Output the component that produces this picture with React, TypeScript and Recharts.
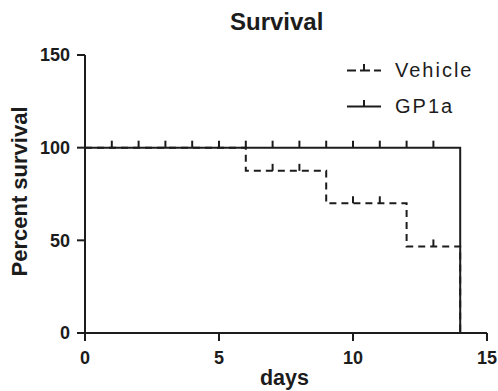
import { ComposedChart, Legend, Line, XAxis, YAxis } from "recharts";

// Kaplan-Meier style survival plot: two step lines with censor ticks.

const xTicks = [0, 5, 10, 15];
const yTicks = [0, 50, 100, 150];

const vehicleDays = [0, 6, 7, 8, 9, 10, 11, 12, 13, 14];
const vehicleSurvival = [100, 87.5, 87.5, 87.5, 70, 70, 70, 46.7, 46.7, 0];
const vehicleCensored = [false, false, true, true, false, true, true, false, true, false];

const gp1aDays = [0, 1, 2, 3, 4, 5, 6, 7, 8, 9, 10, 11, 12, 13, 14];
const gp1aSurvival = [100, 100, 100, 100, 100, 100, 100, 100, 100, 100, 100, 100, 100, 100, 0];
const gp1aCensored = [false, true, true, true, true, true, true, true, true, true, true, true, true, true, false];

const INK = "#1c1c1c";
const FONT = '"Liberation Sans", Arial, Helvetica, sans-serif';

function toRows(days: number[], pct: number[], censored: boolean[]) {
  return days.map((day, i) => ({ day, pct: pct[i], censored: censored[i] }));
}

const vehicleRows = toRows(vehicleDays, vehicleSurvival, vehicleCensored);
const gp1aRows = toRows(gp1aDays, gp1aSurvival, gp1aCensored);

// censored subjects get a short vertical tick sitting on the line
function CensorTick(props: any) {
  const { cx, cy, payload, index, dataKey } = props;
  const key = `${dataKey}-${index}`;
  if (!payload?.censored || cx == null || cy == null) return <g key={key} />;
  return <line key={key} x1={cx} x2={cx} y1={cy - 7} y2={cy} stroke={INK} strokeWidth={2} />;
}

function LegendBox() {
  return (
    <svg width={160} height={70} style={{ overflow: "visible" }}>
      <line x1={7} x2={41} y1={20.5} y2={20.5} stroke={INK} strokeWidth={2} strokeDasharray="9 4 10 4" />
      <line x1={24} x2={24} y1={14} y2={20.5} stroke={INK} strokeWidth={2} />
      <text x={55} y={26.5} fontFamily={FONT} fontSize={20} letterSpacing={2} fill={INK}>
        Vehicle
      </text>
      <line x1={7} x2={41} y1={56.5} y2={56.5} stroke={INK} strokeWidth={2} />
      <line x1={24} x2={24} y1={50} y2={56.5} stroke={INK} strokeWidth={2} />
      <text x={55} y={63} fontFamily={FONT} fontSize={20} letterSpacing={2} fill={INK}>
        GP1a
      </text>
    </svg>
  );
}

const tickStyle = { fill: INK, fontSize: 18, fontWeight: 700, fontFamily: FONT };

export default function App() {
  return (
    <div style={{ position: "absolute", left: 0, top: 0, width: 498, height: 391, background: "#fff" }}>
      <ComposedChart width={498} height={391} margin={{ top: 55, right: 11, bottom: 0, left: 0 }}>
        <XAxis
          type="number"
          dataKey="day"
          domain={[0, 15]}
          ticks={xTicks}
          allowDataOverflow
          height={58}
          tickSize={8}
          tickMargin={10}
          axisLine={{ stroke: INK, strokeWidth: 2 }}
          tickLine={{ stroke: INK, strokeWidth: 2 }}
          tick={tickStyle}
          label={{
            content: () => (
              <text x={284.5} y={385} textAnchor="middle" fontFamily={FONT} fontSize={21.5} fontWeight={700} fill={INK}>
                days
              </text>
            ),
          }}
        />
        <YAxis
          type="number"
          dataKey="pct"
          domain={[0, 150]}
          ticks={yTicks}
          allowDataOverflow
          width={85}
          tickSize={8}
          tickMargin={7}
          axisLine={{ stroke: INK, strokeWidth: 2 }}
          tickLine={{ stroke: INK, strokeWidth: 2 }}
          tick={tickStyle}
          label={{
            content: () => (
              <text
                x={27}
                y={191.5}
                transform="rotate(-90, 27, 191.5)"
                textAnchor="middle"
                fontFamily={FONT}
                fontSize={22}
                fontWeight={700}
                fill={INK}
              >
                Percent survival
              </text>
            ),
          }}
        />
        <Legend
          layout="vertical"
          align="center"
          verticalAlign="middle"
          content={() => <LegendBox />}
          wrapperStyle={{ top: 50, left: 340, width: 160, height: 70 }}
        />
        <Line
          data={vehicleRows}
          dataKey="pct"
          name="Vehicle"
          type="stepAfter"
          stroke={INK}
          strokeWidth={2}
          strokeDasharray="7 5"
          dot={CensorTick}
          activeDot={false}
          isAnimationActive={false}
        />
        <Line
          data={gp1aRows}
          dataKey="pct"
          name="GP1a"
          type="stepAfter"
          stroke={INK}
          strokeWidth={2}
          dot={CensorTick}
          activeDot={false}
          isAnimationActive={false}
        />
      </ComposedChart>
      <svg
        width={498}
        height={40}
        style={{ position: "absolute", left: 0, top: 0, pointerEvents: "none" }}
      >
        <text x={276.7} y={30} textAnchor="middle" fontFamily={FONT} fontSize={24} fontWeight={700} fill={INK}>
          Survival
        </text>
      </svg>
    </div>
  );
}
